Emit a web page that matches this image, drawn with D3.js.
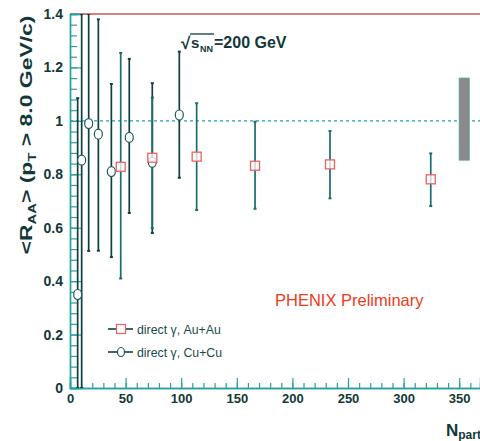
<!DOCTYPE html>
<html>
<head>
<meta charset="utf-8">
<script src="https://cdn.jsdelivr.net/npm/d3@7"></script>
<style>
  body { margin: 0; background: #fff; }
  svg { display: block; font-family: "Liberation Sans", Arial, sans-serif; }
</style>
</head>
<body>
<div id="chart"></div>
<script>
// direct photon, Au+Au (open red squares)
const nAu = [45.6, 74, 113.9, 166.4, 233.8, 324.4];
const rAu = [0.828, 0.862, 0.866, 0.832, 0.837, 0.781];
const loAu = [0.41, 0.598, 0.666, 0.671, 0.71, 0.681];
const hiAu = [1.254, 1.087, 1.066, 0.997, 0.962, 0.878];

// direct photon, Cu+Cu (open circles)
const nCu = [6.9, 10.5, 16.8, 25.5, 37.2, 53.3, 74, 98.3];
const rCu = [0.35, 0.853, 0.99, 0.95, 0.81, 0.938, 0.845, 1.022];
const loCu = [0, 0, 0.513, 0.514, 0.49, 0.655, 0.58, 0.787];
const hiCu = [1.085, 1.4, 1.4, 1.38, 1.138, 1.232, 1.141, 1.259];

// global normalisation uncertainty box
const sysN = [350, 359];
const sysR = [0.853, 1.16];

const xTicks = [0, 50, 100, 150, 200, 250, 300, 350];
const yTicks = [0, 0.2, 0.4, 0.6, 0.8, 1, 1.2, 1.4];
const legendLabels = ["direct \u03b3, Au+Au", "direct \u03b3, Cu+Cu"];

const w = 480, h = 441;
const pLeft = 70, pRight = 480, pTop = 14, pBottom = 388;

const axisCol = "#27a0a0";
const textCol = "#123838";

const svg = d3.select("#chart").append("svg")
  .attr("width", w)
  .attr("height", h);

const x = d3.scaleLinear().domain([0, 368.7]).range([pLeft, pRight]);
const y = d3.scaleLinear().domain([0, 1.4]).range([pBottom, pTop]);

svg.append("clipPath").attr("id", "plot")
  .append("rect")
  .attr("x", pLeft).attr("y", pTop)
  .attr("width", pRight - pLeft).attr("height", pBottom - pTop);

// top frame line
svg.append("line")
  .attr("x1", pLeft).attr("x2", pRight)
  .attr("y1", y(1.4)).attr("y2", y(1.4))
  .attr("stroke", "#cc5555").attr("stroke-width", 1.3);

// dashed line at 1
svg.append("line")
  .attr("x1", pLeft).attr("x2", pRight)
  .attr("y1", y(1)).attr("y2", y(1))
  .attr("stroke", "#20a5a5").attr("stroke-width", 1.2)
  .attr("stroke-dasharray", "3,3");

// gray box
svg.append("rect")
  .attr("x", x(sysN[0])).attr("y", y(sysR[1]))
  .attr("width", x(sysN[1]) - x(sysN[0]))
  .attr("height", y(sysR[0]) - y(sysR[1]))
  .attr("fill", "#8a8a8a")
  .attr("stroke", "#4a9a9a").attr("stroke-width", 0.8);

// axes
const fmt = d => String(+d.toFixed(1));

const yAxis = svg.append("g")
  .attr("transform", "translate(" + pLeft + ",0)")
  .call(d3.axisLeft(y).tickValues(yTicks).tickSize(-12).tickPadding(7).tickFormat(fmt));
const yMinor = svg.append("g")
  .attr("transform", "translate(" + pLeft + ",0)")
  .call(d3.axisLeft(y).tickValues(d3.range(0, 1.4001, 0.04)).tickSize(-7).tickFormat(""));

const xAxis = svg.append("g")
  .attr("transform", "translate(0," + pBottom + ")")
  .call(d3.axisBottom(x).tickValues(xTicks).tickSize(-10).tickPadding(6).tickFormat(d3.format("d")));
const xMinor = svg.append("g")
  .attr("transform", "translate(0," + pBottom + ")")
  .call(d3.axisBottom(x).tickValues(d3.range(0, 369, 10)).tickSize(-5).tickFormat(""));

[yAxis, yMinor, xAxis, xMinor].forEach(g => {
  g.select(".domain").attr("stroke", axisCol).attr("stroke-width", 1.4);
  g.selectAll(".tick line").attr("stroke", axisCol).attr("stroke-width", 1.2);
});
yAxis.selectAll("text")
  .attr("fill", textCol)
  .style("font-size", "14px").style("font-weight", "bold");
xAxis.selectAll("text")
  .attr("fill", textCol)
  .style("font-size", "13px").style("font-weight", "bold");

// error bars
const plot = svg.append("g").attr("clip-path", "url(#plot)");

function bars(ns, lo, hi, col) {
  ns.forEach((n, i) => {
    plot.append("line")
      .attr("x1", x(n)).attr("x2", x(n))
      .attr("y1", y(lo[i])).attr("y2", y(hi[i]))
      .attr("stroke", col).attr("stroke-width", 1.7);
    [lo[i], hi[i]].forEach(v => {
      plot.append("line")
        .attr("x1", x(n) - 1.5).attr("x2", x(n) + 1.5)
        .attr("y1", y(v)).attr("y2", y(v))
        .attr("stroke", col).attr("stroke-width", 2);
    });
  });
}
bars(nCu, loCu, hiCu, "#0f4040");
bars(nAu, loAu, hiAu, "#1c6a6a");

// markers
plot.selectAll(".cu").data(nCu).enter()
  .append("ellipse")
  .attr("cx", d => x(d))
  .attr("cy", (d, i) => y(rCu[i]))
  .attr("rx", 4).attr("ry", 5)
  .attr("fill", "#fff").attr("stroke", "#1a5a5a").attr("stroke-width", 1.2);

plot.selectAll(".au").data(nAu).enter()
  .append("rect")
  .attr("x", d => x(d) - 4.5)
  .attr("y", (d, i) => y(rAu[i]) - 4.5)
  .attr("width", 9).attr("height", 9)
  .attr("fill", "#fff").attr("fill-opacity", 0.75)
  .attr("stroke", "#ee6060").attr("stroke-width", 1.3);

// legend
const legY = [329, 352];
legY.forEach((ly, i) => {
  svg.append("line")
    .attr("x1", 108).attr("x2", 133).attr("y1", ly).attr("y2", ly)
    .attr("stroke", "#0f4040").attr("stroke-width", 1.6);
  if (i === 0) {
    svg.append("rect").attr("x", 116.5).attr("y", ly - 4.5)
      .attr("width", 9).attr("height", 9)
      .attr("fill", "#fff").attr("stroke", "#ee6060").attr("stroke-width", 1.2);
  } else {
    svg.append("ellipse").attr("cx", 121).attr("cy", ly)
      .attr("rx", 3.5).attr("ry", 4.5)
      .attr("fill", "#fff").attr("stroke", "#1a5a5a").attr("stroke-width", 1.2);
  }
  svg.append("text")
    .attr("x", 137).attr("y", ly + 4.5)
    .attr("fill", "#1a4a4a")
    .style("font-size", "12.3px")
    .text(legendLabels[i]);
});

// PHENIX Preliminary
svg.append("text")
  .attr("x", 275).attr("y", 306)
  .attr("fill", "#f03a20")
  .style("font-size", "16.5px")
  .text("PHENIX Preliminary");

// sqrt(s_NN) = 200 GeV
const ann = svg.append("g").attr("fill", textCol).style("font-weight", "bold");
ann.append("text").attr("x", 181).attr("y", 49).style("font-size", "17px").text("\u221a");
ann.append("line").attr("x1", 190).attr("x2", 214).attr("y1", 34).attr("y2", 34)
  .attr("stroke", textCol).attr("stroke-width", 1.3);
ann.append("text").attr("x", 191).attr("y", 48).style("font-size", "15px").text("s");
ann.append("text").attr("x", 200).attr("y", 52).style("font-size", "9px").text("NN");
ann.append("text").attr("x", 214).attr("y", 48).style("font-size", "16px").text("=200 GeV");

// y axis title
const yt = svg.append("text")
  .attr("transform", "translate(32,135) rotate(-90) scale(1.35,1)")
  .attr("text-anchor", "middle")
  .attr("fill", textCol)
  .style("font-size", "17px").style("font-weight", "bold");
yt.append("tspan").text("<R");
yt.append("tspan").attr("dy", 4).style("font-size", "11px").text("AA");
yt.append("tspan").attr("dy", -4).text("> (p");
yt.append("tspan").attr("dy", 4).style("font-size", "11px").text("T");
yt.append("tspan").attr("dy", -4).text(" > 8.0 GeV/c)");

// x axis title
const xt = svg.append("text")
  .attr("x", 446).attr("y", 436)
  .attr("fill", textCol)
  .style("font-weight", "bold");
xt.append("tspan").style("font-size", "17px").text("N");
xt.append("tspan").attr("dy", 3).style("font-size", "12px").text("part");
</script>
</body>
</html>
